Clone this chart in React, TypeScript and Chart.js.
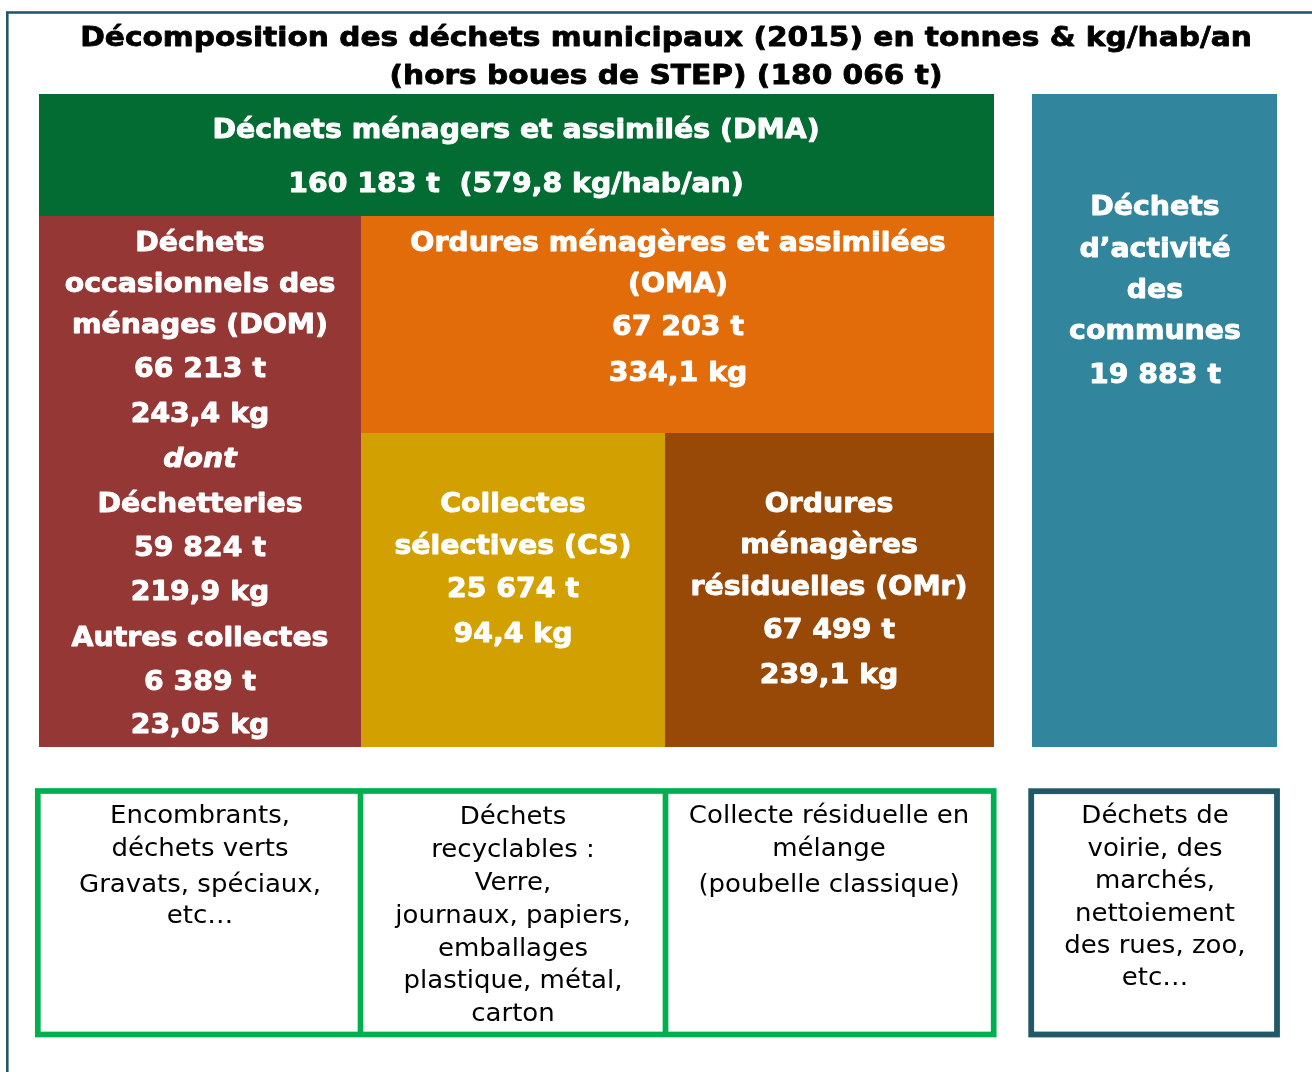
import React, { useEffect, useRef } from "react";
import { Chart, registerables } from "chart.js";

Chart.register(...registerables);

// ---------- DATA ----------
const titleLines = [
  "Décomposition des déchets municipaux (2015) en tonnes & kg/hab/an",
  "(hors boues de STEP) (180 066 t)",
];
const categories = ["DMA", "DOM", "OMA", "CS", "OMr", "DAC"];
const categoryLabels = [
  ["Déchets ménagers et assimilés (DMA)"],
  ["Déchets", "occasionnels des", "ménages (DOM)"],
  ["Ordures ménagères et assimilées", "(OMA)"],
  ["Collectes", "sélectives (CS)"],
  ["Ordures", "ménagères", "résiduelles (OMr)"],
  ["Déchets", "d’activité", "des", "communes"],
];
const tonnes = [160183, 66213, 67203, 25674, 67499, 19883];
const kgPerHab: (number | null)[] = [579.8, 243.4, 334.1, 94.4, 239.1, null];
const domSubLabels = ["Déchetteries", "Autres collectes"];
const domSubTonnes = [59824, 6389];
const domSubKg = [219.9, 23.05];
const descriptions = [
  ["Encombrants,", "déchets verts", "Gravats, spéciaux,", "etc…"],
  ["Déchets", "recyclables :", "Verre,", "journaux, papiers,", "emballages", "plastique, métal,", "carton"],
  ["Collecte résiduelle en", "mélange", "(poubelle classique)"],
  ["Déchets de", "voirie, des", "marchés,", "nettoiement", "des rues, zoo,", "etc…"],
];

// ---------- LAYOUT / STYLE (diagram units = reference pixels) ----------
const COLORS: Record<string, string> = {
  DMA: "#036c33",
  DOM: "#953735",
  OMA: "#e36c0a",
  CS: "#d2a000",
  OMr: "#984807",
  DAC: "#31859c",
};
const RECTS: Record<string, [number, number, number, number]> = {
  DMA: [39, 94, 994, 216],
  DOM: [39, 216, 361, 747],
  OMA: [361, 216, 994, 433],
  CS: [361, 433, 665, 747],
  OMr: [665, 433, 994, 747],
  DAC: [1032, 94, 1277, 747],
};
const CENTERS: Record<string, number> = { DMA: 516, DOM: 200, OMA: 678, CS: 513, OMr: 829, DAC: 1155 };
const BASELINES: Record<string, number[]> = {
  DMA: [138, 192],
  DOM: [251, 292, 333, 377, 422, 467, 512, 556, 600, 646, 690, 733],
  OMA: [251, 292, 335, 381],
  CS: [512, 554, 597, 642],
  OMr: [512, 553, 595, 638, 683],
  DAC: [215, 257, 298, 339, 383],
};
const DESC_CENTERS = [200, 513, 829, 1155];
const DESC_BASELINES = [
  [823, 856, 892, 923],
  [824, 857, 890, 923, 956, 988, 1021],
  [823, 856, 892],
  [823, 856, 888, 921, 953, 985],
];

const fmtT = (v: number) => String(v).replace(/\B(?=(\d{3})+(?!\d))/g, " ") + " t";
const fmtKg = (v: number) => String(v).replace(".", ",");

const FONT = '"DejaVu Sans", Verdana, sans-serif';

function drawText(
  ctx: CanvasRenderingContext2D,
  text: string,
  cx: number,
  baseline: number,
  font: string,
  color: string,
  sx: number,
  weight = 0
) {
  ctx.save();
  ctx.font = font;
  ctx.fillStyle = color;
  ctx.textAlign = "center";
  ctx.textBaseline = "alphabetic";
  ctx.translate(cx, baseline);
  ctx.scale(sx, 1);
  ctx.fillText(text, 0, 0);
  if (weight > 0) {
    ctx.strokeStyle = color;
    ctx.lineWidth = weight;
    ctx.lineJoin = "round";
    ctx.strokeText(text, 0, 0);
  }
  ctx.restore();
}

const diagramPlugin = {
  id: "wasteDiagram",
  afterDraw(chart: any) {
    const { ctx } = chart;
    const xs = chart.scales.x;
    const ys = chart.scales.y;
    const X = (v: number) => xs.getPixelForValue(v);
    const Y = (v: number) => ys.getPixelForValue(v);

    ctx.save();
    // outer frame
    ctx.strokeStyle = "#215968";
    ctx.lineWidth = 2.6;
    ctx.strokeRect(X(7.3), Y(12.5), X(1400) - X(7.3), Y(1200) - Y(12.5));

    // title
    titleLines.forEach((t, i) => {
      drawText(ctx, t, X(666), Y(i === 0 ? 46 : 84), `bold 26px ${FONT}`, "#000000", 1.14, 0.8);
    });

    // coloured cells
    categories.forEach((cat) => {
      const [x0, y0, x1, y1] = RECTS[cat];
      ctx.fillStyle = COLORS[cat];
      ctx.fillRect(X(x0), Y(y0), X(x1) - X(x0), Y(y1) - Y(y0));
    });

    // texts in cells
    const bold = `bold 26px ${FONT}`;
    const boldIt = `italic bold 26px ${FONT}`;
    categories.forEach((cat, i) => {
      const lines: { t: string; f: string }[] = categoryLabels[i].map((t) => ({ t, f: bold }));
      if (cat === "DMA") {
        lines.push({ t: `${fmtT(tonnes[i])}  (${fmtKg(kgPerHab[i] as number)} kg/hab/an)`, f: bold });
      } else {
        lines.push({ t: fmtT(tonnes[i]), f: bold });
        if (kgPerHab[i] != null) lines.push({ t: `${fmtKg(kgPerHab[i] as number)} kg`, f: bold });
      }
      if (cat === "DOM") {
        lines.push({ t: "dont", f: boldIt });
        domSubLabels.forEach((l, j) => {
          lines.push({ t: l, f: bold });
          lines.push({ t: fmtT(domSubTonnes[j]), f: bold });
          lines.push({ t: `${fmtKg(domSubKg[j])} kg`, f: bold });
        });
      }
      const bl = BASELINES[cat];
      lines.forEach((ln, k) => {
        drawText(ctx, ln.t, X(CENTERS[cat]), Y(bl[k]), ln.f, "#ffffff", 1.09, 0.9);
      });
    });

    // description boxes
    ctx.lineWidth = 5.7;
    ctx.strokeStyle = "#00b050";
    ctx.strokeRect(X(37.8), Y(791), X(993.7) - X(37.8), Y(1034.5) - Y(791));
    [360.5, 665.5].forEach((xv) => {
      ctx.beginPath();
      ctx.moveTo(X(xv), Y(791));
      ctx.lineTo(X(xv), Y(1034.5));
      ctx.stroke();
    });
    ctx.strokeStyle = "#215968";
    ctx.lineWidth = 5.8;
    ctx.strokeRect(X(1031.2), Y(791.2), X(1277) - X(1031.2), Y(1034.5) - Y(791.2));

    descriptions.forEach((lines, i) => {
      lines.forEach((t, k) => {
        drawText(ctx, t, X(DESC_CENTERS[i]), Y(DESC_BASELINES[i][k]), `25px ${FONT}`, "#000000", 1.04);
      });
    });
    ctx.restore();
  },
};

export default function App() {
  const ref = useRef<HTMLCanvasElement>(null);
  useEffect(() => {
    document.body.style.margin = "0";
    const chart = new Chart(ref.current!, {
      type: "scatter",
      data: { datasets: [{ label: "cells", data: [] }] },
      options: {
        animation: false,
        responsive: false,
        layout: { padding: 0 },
        plugins: { legend: { display: false }, tooltip: { enabled: false }, title: { display: false } },
        scales: {
          x: { type: "linear", min: 0, max: 1312, display: false },
          y: { type: "linear", min: 0, max: 1072, reverse: true, display: false },
        },
      },
      plugins: [diagramPlugin],
    });
    return () => chart.destroy();
  }, []);
  return (
    <div style={{ width: 1312, height: 1072, background: "#ffffff" }}>
      <canvas ref={ref} width={1312} height={1072} style={{ display: "block" }} />
    </div>
  );
}
